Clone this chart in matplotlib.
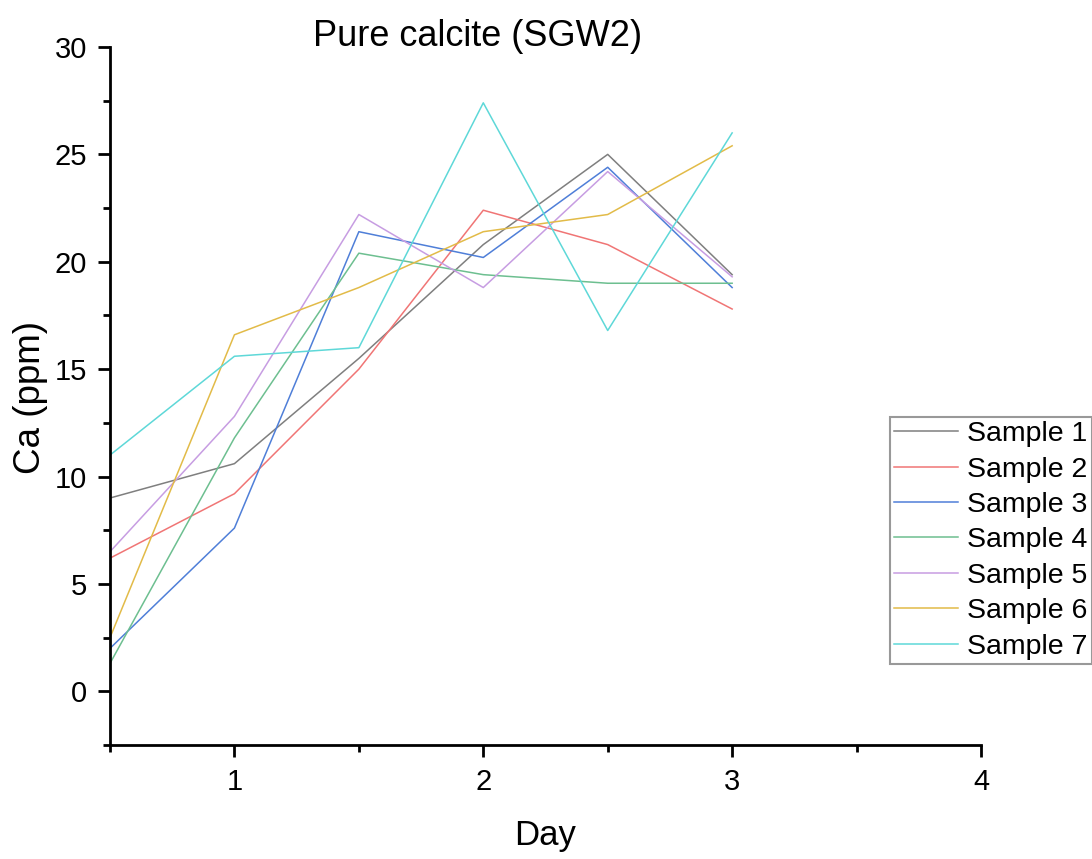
import matplotlib
matplotlib.use("Agg")
import matplotlib.pyplot as plt
from matplotlib.ticker import MultipleLocator

plt.rcParams['font.family'] = ['Liberation Sans', 'DejaVu Sans']

days = [0.5, 1.0, 1.5, 2.0, 2.5, 3.0]
sample1 = [9.0, 10.6, 15.5, 20.8, 25.0, 19.4]
sample2 = [6.2, 9.2, 15.0, 22.4, 20.8, 17.8]
sample3 = [2.0, 7.6, 21.4, 20.2, 24.4, 18.8]
sample4 = [1.3, 11.8, 20.4, 19.4, 19.0, 19.0]
sample5 = [6.5, 12.8, 22.2, 18.8, 24.2, 19.3]
sample6 = [2.5, 16.6, 18.8, 21.4, 22.2, 25.4]
sample7 = [11.0, 15.6, 16.0, 27.4, 16.8, 26.0]
series = [sample1, sample2, sample3, sample4, sample5, sample6, sample7]
labels = ["Sample 1", "Sample 2", "Sample 3", "Sample 4", "Sample 5", "Sample 6", "Sample 7"]
colors = ['#7f7f7f', '#f07575', '#4f7fd8', '#6dbf90', '#c79de2', '#e2bb48', '#5ed8d8']

W, H = 1092, 859
fig = plt.figure(figsize=(W / 100, H / 100), dpi=100)
ax = fig.add_axes([110 / W, 1 - 745 / H, (981 - 110) / W, (745 - 47) / H])
for ys, lab, c in zip(series, labels, colors):
    ax.plot(days, ys, color=c, lw=1.1, label=lab)

ax.set_xlim(0.5, 4.0)
ax.set_ylim(-2.5, 30)
ax.xaxis.set_major_locator(MultipleLocator(1))
ax.xaxis.set_minor_locator(MultipleLocator(0.5))
ax.yaxis.set_major_locator(MultipleLocator(5))
ax.yaxis.set_minor_locator(MultipleLocator(2.5))
for s in ['top', 'right']:
    ax.spines[s].set_visible(False)
for s in ['left', 'bottom']:
    ax.spines[s].set_linewidth(2)
ax.tick_params(which='major', direction='out', length=8.5, width=2, labelsize=21)
ax.tick_params(axis='x', which='major', pad=8)
ax.tick_params(axis='y', which='major', pad=8)
ax.tick_params(which='minor', direction='out', length=5, width=2)

fig.text(478 / W, 1 - 46 / H, "Pure calcite (SGW2)", fontsize=26,
         ha='center', va='baseline')
fig.text(545 / W, 1 - 835 / H, "Day", fontsize=25, ha='center', va='center')
fig.text(30 / W, 1 - 398 / H, "Ca (ppm)", fontsize=26.5, ha='center', va='center',
         rotation=90)

leg = fig.legend(loc='upper left', bbox_to_anchor=(890 / W, 1 - 417 / H),
                 fontsize=20.5, frameon=True, fancybox=False, handlelength=2.25,
                 borderpad=0.15, labelspacing=0.33, handletextpad=0.3,
                 borderaxespad=0)
leg.get_frame().set_edgecolor('#808080')
leg.get_frame().set_linewidth(1.5)

fig.savefig("out.png", dpi=100)
